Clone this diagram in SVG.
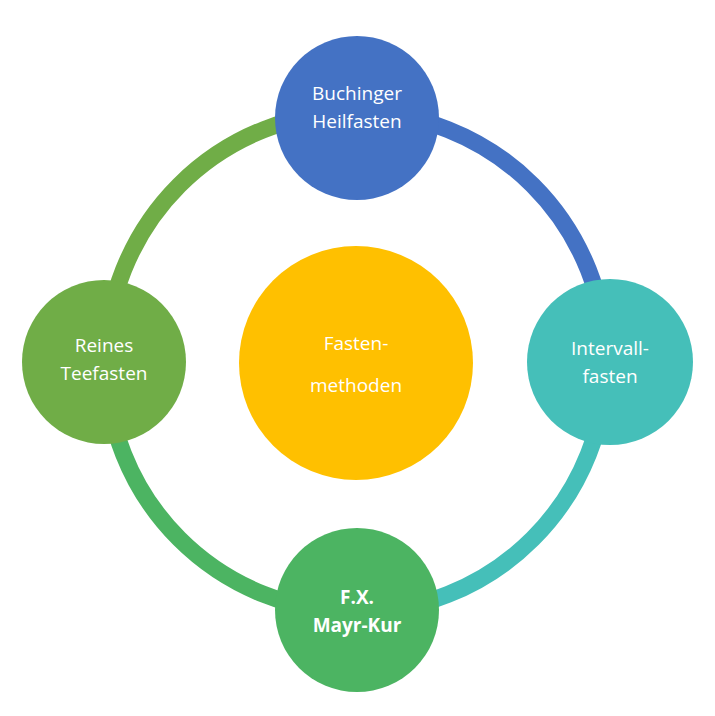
<svg xmlns="http://www.w3.org/2000/svg" width="715" height="716" viewBox="0 0 715 716">
<style>
.arc{fill:none;stroke-width:17}
.t{font-family:"Open Sans","Liberation Sans",sans-serif;fill:#fff;text-anchor:middle;font-size:19px}
</style>
<rect width="715" height="716" fill="#fff"/>
<g id="connectors">
<path class="arc" stroke="#4472C4" d="M356 112 A250 250 0 0 1 606 362"/>
<path class="arc" stroke="#45BFB9" d="M606 362 A250 250 0 0 1 356 612"/>
<path class="arc" stroke="#4CB462" d="M356 612 A250 250 0 0 1 106 362"/>
<path class="arc" stroke="#70AD47" d="M106 362 A250 250 0 0 1 356 112"/>
</g>
<g id="center"><circle cx="356" cy="363" r="117" fill="#FFC000"/>
<text class="t" x="356" y="350" font-size="30">Fasten-</text>
<text class="t" x="356" y="392" font-size="30">methoden</text></g>
<g id="top"><circle cx="357" cy="118" r="82" fill="#4472C4"/>
<text class="t" x="357" y="100">Buchinger</text><text class="t" x="357" y="128">Heilfasten</text></g>
<g id="right"><circle cx="610" cy="362" r="83" fill="#45BFB9"/>
<text class="t" x="610" y="355">Intervall-</text><text class="t" x="610" y="383">fasten</text></g>
<g id="bottom"><circle cx="357" cy="610" r="82" fill="#4CB462"/>
<text class="t" x="357" y="604" font-weight="bold">F.X.</text><text class="t" x="357" y="632" font-weight="bold">Mayr-Kur</text></g>
<g id="left"><circle cx="104" cy="362" r="82" fill="#70AD47"/>
<text class="t" x="104" y="352">Reines</text><text class="t" x="104" y="380">Teefasten</text></g>
</svg>
